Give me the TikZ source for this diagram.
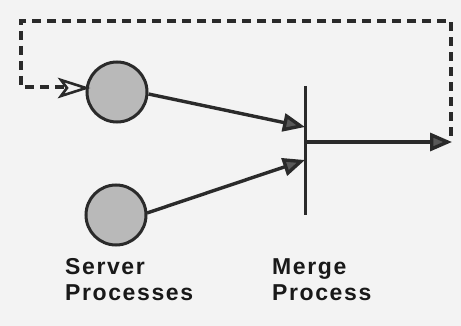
\documentclass[tikz,border=0pt]{standalone}
\usepackage{fontspec}
\setmainfont{Liberation Sans}
\usetikzlibrary{arrows.meta}
\definecolor{ink}{HTML}{2A2A2A}
\definecolor{bg}{HTML}{F3F3F3}
\tikzset{
  proc/.style={circle, draw=ink, line width=3pt, fill=gray!55, minimum size=60pt, inner sep=0pt},
  flow/.style={draw=ink, line width=3.4pt, -{Triangle[length=22pt, width=18pt, fill=gray!70!black]}},
  loopline/.style={draw=ink, line width=3.4pt, dash pattern=on 9pt off 6pt},
  openhead/.style={draw=ink, line width=2.6pt, line join=miter, fill=bg},
  lbl/.style={font=\bfseries\fontsize{23}{26}\selectfont\addfontfeature{LetterSpace=7}, align=left, text=black!90, anchor=north west, inner sep=0pt}
}
\begin{document}
\begin{tikzpicture}[x=1pt,y=-1pt]
\useasboundingbox[fill=bg] (0,0) rectangle (461,326);
\node[proc] (c1) at (117,92) {};
\node[proc] (c2) at (116,215) {};
\coordinate (bt) at (305,86);
\coordinate (bb) at (305,215);
\draw[ink, line width=3pt] (bt) -- (bb);
\coordinate (in1) at (305,127);
\coordinate (in2) at (305,160);
\coordinate (out0) at (306,142);
\coordinate (out1) at (452,142);
\draw[flow] (c1.east) ++(0,2) -- (in1);
\draw[flow] (c2) ++(31,-2) -- (in2);
\draw[flow] (out0) -- (out1);
\coordinate (ne) at (451,21);
\coordinate (nw) at (21,21);
\coordinate (sw) at (21,87);
\coordinate (fb) at (86,88);
\draw[loopline] (451,136) -- (ne) -- (nw) -- (sw) -- (66,87);
\draw[openhead] (fb) -- ++(-25,-8) -- ++(6,8) -- ++(-6,8) -- cycle;
\node[lbl] (l1) at (65,258) {Server\\Processes};
\node[lbl] (l2) at (272,258) {Merge\\Process};
\end{tikzpicture}
\end{document}
